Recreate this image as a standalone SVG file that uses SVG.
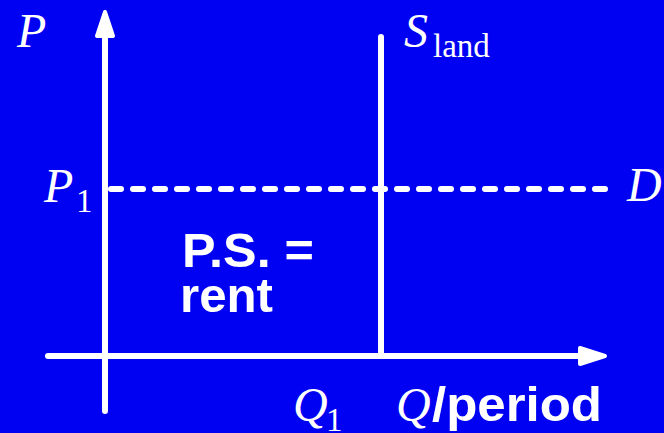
<svg xmlns="http://www.w3.org/2000/svg" width="664" height="433" viewBox="0 0 664 433">
<style>
.ax{stroke:#fff;stroke-width:6;stroke-linecap:round;fill:none}
.ah{fill:#fff;stroke:#fff;stroke-width:4;stroke-linejoin:round}
.it{font-family:"Liberation Serif",serif;font-style:italic;fill:#fff}
.rm{font-family:"Liberation Serif",serif;fill:#fff}
.bd{font-family:"Liberation Sans",Arial,sans-serif;font-weight:bold;fill:#fff}
</style>
<rect x="0" y="0" width="664" height="433" fill="#0000F2"/>
<g id="connectors">
<line class="ax" x1="105" y1="411" x2="105" y2="30"/>
<polygon class="ah" points="105,12 113,36 97,36"/>
<line class="ax" x1="48" y1="356" x2="585" y2="356"/>
<polygon class="ah" points="605,356 580,348 580,364"/>
<line class="ax" x1="381" y1="37" x2="381" y2="355"/>
<line class="ax" x1="111" y1="189" x2="605" y2="189" stroke-dasharray="10 12"/>
</g>
<g id="label-P"><text class="it" x="17" y="47" font-size="48">P</text></g>
<g id="label-S"><text class="it" x="404" y="47" font-size="48">S</text><text class="rm" x="433" y="57" font-size="33">land</text></g>
<g id="label-P1"><text class="it" x="44" y="202" font-size="48">P</text><text class="rm" x="76" y="212" font-size="33">1</text></g>
<g id="label-D"><text class="it" x="627" y="201" font-size="48">D</text></g>
<g id="label-PS"><text class="bd" x="182" y="267" font-size="48" textLength="132" lengthAdjust="spacingAndGlyphs">P.S. =</text><text class="bd" x="180" y="312" font-size="48" textLength="93" lengthAdjust="spacingAndGlyphs">rent</text></g>
<g id="label-Q1"><text class="it" x="293" y="421" font-size="48">Q</text><text class="rm" x="326" y="431" font-size="33">1</text></g>
<g id="label-Q"><text class="it" x="396" y="421" font-size="48">Q</text><text class="bd" x="432" y="421" font-size="48" textLength="170" lengthAdjust="spacingAndGlyphs">/period</text></g>
</svg>
